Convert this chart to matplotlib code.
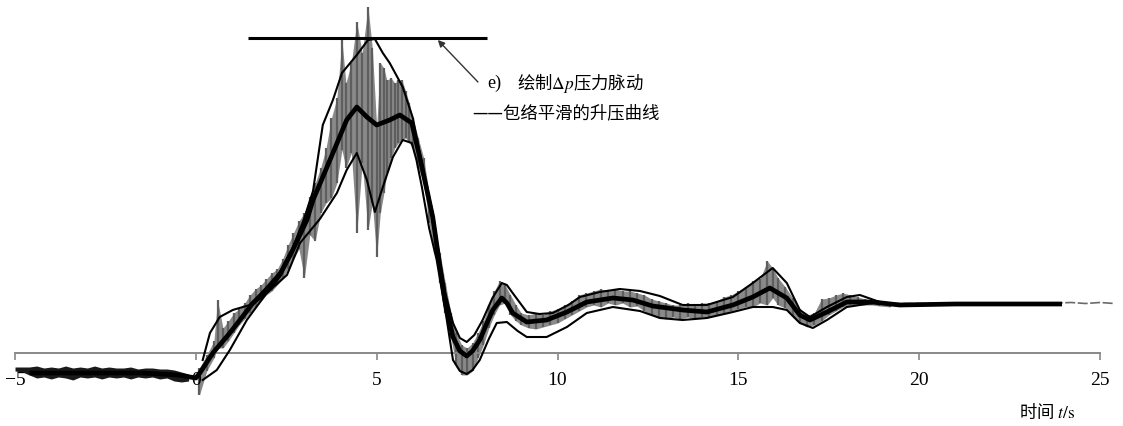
import numpy as np
import matplotlib.pyplot as plt

plt.rcParams['font.family'] = ['Noto Sans CJK SC', 'DejaVu Sans']
plt.rcParams['mathtext.fontset'] = 'stix'

# 原始压力脉动信号（按时间分段读出的最小/最大值）
raw_t = [-5.0, -4.8, -4.6, -4.4, -4.2, -4.0, -3.8, -3.6, -3.4, -3.2, -3.0, -2.8, -2.6,
         -2.4, -2.2, -2.0, -1.8, -1.6, -1.4, -1.2, -1.0, -0.8, -0.6, -0.4, -0.2,
         0.1, 0.3, 0.5, 0.6, 0.75, 0.9, 1.05, 1.2, 1.35, 1.5, 1.65, 1.8, 1.95, 2.1,
         2.25, 2.4, 2.55, 2.7, 2.85, 3.0, 3.15, 3.3, 3.45, 3.6, 3.75, 3.9, 4.04, 4.15,
         4.3, 4.45, 4.6, 4.76, 4.88, 5.0, 5.1, 5.2, 5.28, 5.4, 5.5, 5.6, 5.7, 5.8, 5.9,
         6.0, 6.15, 6.3, 6.45, 6.6, 6.75, 6.9, 7.05, 7.2, 7.35, 7.5, 7.65, 7.8, 7.95,
         8.1, 8.25, 8.4, 8.55, 8.7, 8.85, 9.0, 9.2, 9.4, 9.6, 9.8, 10.0, 10.2, 10.4,
         10.6, 10.8, 11.0, 11.2, 11.4, 11.6, 11.8, 12.0, 12.2, 12.4, 12.6, 12.8, 13.0,
         13.2, 13.4, 13.6, 13.8, 14.0, 14.2, 14.4, 14.6, 14.8, 15.0, 15.2, 15.4, 15.6,
         15.8, 15.95, 16.1, 16.3, 16.5, 16.7, 16.9, 17.1, 17.3, 17.5, 17.7, 17.9, 18.1,
         18.3, 18.5, 18.7, 18.9, 19.2, 19.6, 20.5, 21.5, 22.5, 23.5, 24.2, 24.6, 25.0,
         25.4]
raw_lo = [-18, -19, -22, -25, -24, -26, -24, -25, -27, -24, -25, -24, -26,
          -24, -25, -24, -26, -24, -25, -24, -26, -25, -28, -29, -28,
          -42, -18, -5, 5, 5, 12, 20, 28, 34, 40, 46, 52, 58, 62,
          68, 74, 84, 94, 104, 75, 118, 112, 140, 150, 155, 170, 203, 185,
          200, 120, 190, 123, 150, 96, 140, 160, 180, 195, 205, 210, 213, 215, 210,
          205, 185, 170, 130, 100, 70, 40, 15, -12, -22, -22, -18, -5, 8,
          25, 38, 48, 50, 38, 32, 28, 25, 24, 26, 28, 30, 34, 38,
          42, 46, 48, 46, 50, 48, 50, 46, 47, 42, 38, 36, 34,
          36, 34, 36, 34, 36, 36, 38, 40, 42, 44, 46, 46, 50,
          48, 55, 48, 45, 36, 30, 26, 28, 32, 38, 42, 46, 48,
          48, 48, 48, 47, 46, 48, 48, 48, 48, 48, 47, 47, 46,
          47]
raw_hi = [-14, -14, -14, -13, -15, -14, -15, -13, -15, -14, -15, -13, -15,
          -14, -15, -15, -14, -16, -15, -15, -16, -16, -17, -19, -21,
          -15, -2, 12, 53, 25, 32, 40, 44, 50, 58, 64, 68, 74, 80,
          84, 94, 108, 120, 132, 140, 156, 170, 185, 205, 235, 255, 313, 270,
          290, 331, 300, 346, 305, 226, 290, 285, 273, 275, 270, 273, 273, 262, 250,
          235, 215, 195, 160, 125, 100, 70, 40, 20, 8, 5, 10, 20, 32,
          48, 62, 72, 68, 58, 48, 40, 38, 40, 38, 42, 44, 48, 52,
          58, 60, 62, 64, 62, 64, 62, 62, 60, 58, 54, 52, 50,
          48, 48, 50, 48, 50, 50, 52, 56, 58, 62, 66, 72, 74,
          92, 85, 75, 66, 55, 44, 38, 40, 54, 55, 58, 60, 58,
          56, 54, 53, 52, 51, 51, 51, 51, 51, 51, 52, 51, 52,
          51]

# 包络平滑的升压曲线
mid_t = [-4.6, -3.0, -1.5, -0.5, 0.0, 0.11, 0.47, 0.94, 1.58, 2.0, 2.32, 2.68, 3.07,
         3.24, 3.51, 3.79, 4.17, 4.45, 4.73, 5.0, 5.36, 5.64, 5.97, 6.19, 6.55, 6.75,
         6.9, 7.11, 7.3, 7.49, 7.65, 7.85, 8.05, 8.21, 8.46, 8.6, 8.76, 9.15, 9.7,
         10.26, 10.81, 11.53, 12.08, 12.63, 13.46, 14.13, 14.85, 15.4, 15.87, 16.34,
         16.7, 16.98, 17.45, 18.0, 18.72, 19.46, 21.0, 22.5, 23.95]
mid_v = [-20, -20, -20, -22, -25, -20, 0, 20, 50, 63, 78, 103, 133,
         153, 176, 200, 233, 246, 236, 228, 233, 238, 230, 196, 136, 86,
         50, 16, 2, -3, 2, 13, 30, 43, 55, 50, 40, 31, 33,
         41, 51, 55, 53, 47, 43, 41, 48, 56, 65, 55,
         38, 33, 41, 51, 51, 48, 49, 49, 49]

# 上包络线
up_t = [0.19, 0.39, 0.66, 1.02, 1.49, 1.96, 2.32, 2.68, 3.0, 3.24, 3.51, 3.79, 4.04,
        4.45, 4.76, 4.95, 5.17, 5.36, 5.72, 6.0, 6.19, 6.55, 6.75, 6.9, 7.11, 7.3,
        7.49, 7.7, 7.93, 8.2, 8.46, 8.6, 8.76, 9.15, 9.5, 9.87, 10.3, 10.62, 11.17,
        11.72, 12.28, 12.83, 13.46, 14.13, 14.85, 15.4, 15.95, 16.34, 16.7, 16.98,
        17.45, 18.0, 18.36, 18.91, 19.46]
up_v = [-7, 20, 36, 43, 48, 66, 81, 105, 135, 162, 228, 253, 280,
        298, 313, 314, 300, 290, 266, 235, 200, 140, 92, 60, 30, 15,
        11, 18, 33, 55, 70, 68, 60, 41, 39, 40, 48, 56, 61,
        64, 62, 57, 48, 48, 56, 70, 85, 70, 43, 36,
        46, 56, 58, 51, 48]

# 下包络线
lo_t = [0.19, 0.58, 0.94, 1.41, 1.96, 2.52, 2.88, 3.43, 3.9, 4.17, 4.45, 4.73, 4.95,
        5.17, 5.45, 5.72, 5.97, 6.1, 6.25, 6.45, 6.66, 6.94, 7.11, 7.3, 7.49, 7.65,
        7.85, 8.1, 8.32, 8.6, 8.9, 9.15, 9.7, 10.26, 10.81, 11.53, 12.28, 12.83,
        13.46, 14.13, 14.85, 15.4, 15.95, 16.34, 16.7, 17.06, 17.45, 18.0, 18.72,
        19.46]
lo_v = [-27, -17, 3, 33, 60, 78, 110, 134, 160, 183, 200, 173, 141,
        166, 196, 213, 210, 193, 166, 125, 93, 33, -7, -18, -21, -17,
        -7, 14, 30, 31, 22, 16, 16, 26, 40, 46, 42, 35,
        33, 35, 41, 46, 46, 43, 30, 25, 33, 46, 50,
        48]

peak_level = 315
peak_span = [1.45, 8.05]
xticks = [-5, 0, 5, 10, 15, 20, 25]

fig = plt.figure(figsize=(11.23, 4.26), dpi=100)
ax = fig.add_axes([0, 0, 1, 1])

# 原始信号：0 s 之前的部分很密，印刷成黑带
raw_t = np.array(raw_t)
raw_lo = np.array(raw_lo)
raw_hi = np.array(raw_hi)
pre = raw_t < 0
post = (raw_t > 0) & (raw_t < 19.5)
ax.fill_between(raw_t[post], raw_lo[post], raw_hi[post], color='#8a8a8a', lw=0, zorder=1)
ax.vlines(raw_t[post], raw_lo[post], raw_hi[post], color='#5e5e5e', lw=1.6, zorder=1)
ax.fill_between(raw_t[pre], raw_lo[pre], raw_hi[pre], color='#1a1a1a', lw=0, zorder=1)
tail = raw_t > 19
ax.plot(raw_t[tail], raw_hi[tail] - 1.5, color='#6a6a6a', lw=1.2, ls=(0, (6, 1.5)), zorder=1)

ax.plot(up_t, up_v, color='black', lw=1.5, zorder=3, solid_joinstyle='round')
ax.plot(lo_t, lo_v, color='black', lw=1.5, zorder=3, solid_joinstyle='round')
ax.plot(mid_t, mid_v, color='black', lw=3.4, zorder=4, solid_joinstyle='round',
        solid_capstyle='butt')

# 峰值线
ax.hlines(peak_level, peak_span[0], peak_span[1], color='black', lw=2.2, zorder=5)
ax.annotate('', xy=(6.69, peak_level - 2), xytext=(7.8, 271),
            arrowprops=dict(arrowstyle='-|>', color='#333333', lw=1.0,
                            mutation_scale=10, shrinkA=0, shrinkB=0))
ax.text(8.05, 270, 'e)', fontsize=13, family='Liberation Serif', va='center', ha='left')
ax.text(8.87, 270, r'绘制$\Delta p$压力脉动', fontsize=12.5, va='center', ha='left')
ax.text(7.63, 240, '——包络平滑的升压曲线', fontsize=12.5, va='center', ha='left')
ax.text(23.53, -59, r'时间 $t/\mathrm{s}$', fontsize=12.5, va='center', ha='center')

ax.set_xlim(-5.415, 25.636)
ax.set_ylim(-73, 353)
for s in ['left', 'right', 'top']:
    ax.spines[s].set_visible(False)
ax.spines['bottom'].set_position(('data', 0))
ax.spines['bottom'].set_bounds(-5, 25)
ax.spines['bottom'].set_color('#888888')
ax.spines['bottom'].set_linewidth(1.4)
ax.set_yticks([])
ax.set_xticks(xticks)
ax.set_xticklabels([str(v).replace('-', '\u2212') for v in xticks])
ax.tick_params(axis='x', direction='out', length=5, width=1.2, color='#888888',
               labelsize=14, pad=9)
for lab in ax.get_xticklabels():
    lab.set_family('Liberation Serif')

fig.savefig('out.png', dpi=100)
